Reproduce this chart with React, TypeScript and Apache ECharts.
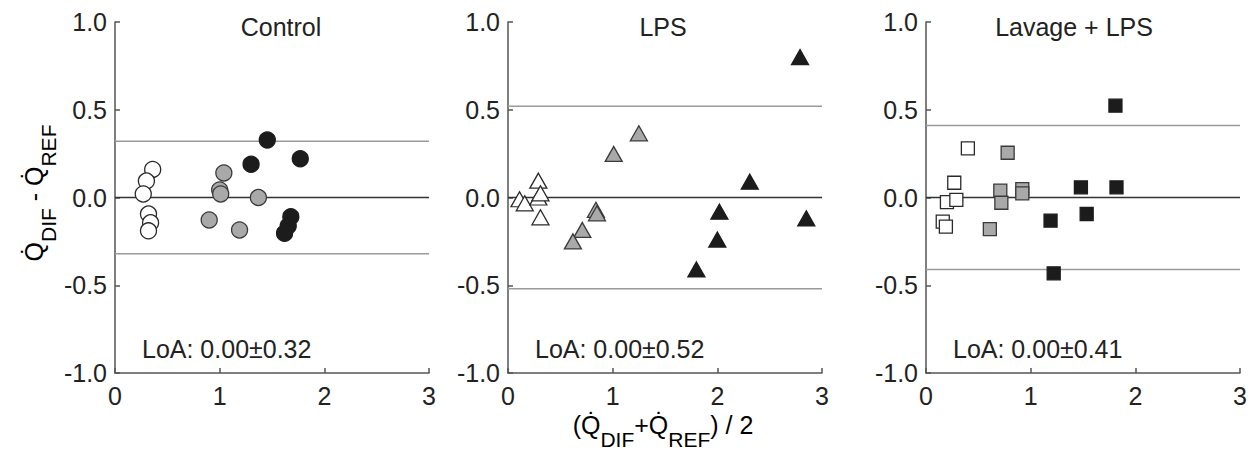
import React, { useEffect, useRef } from "react";
import * as echarts from "echarts";

// ---- data ----
const panelTitles = ["Control", "LPS", "Lavage + LPS"];
const loaValues = [0.32, 0.52, 0.41];
const loaLabels = ["LoA: 0.00\u00b10.32", "LoA: 0.00\u00b10.52", "LoA: 0.00\u00b10.41"];
const xTickMin = 0;
const xTickMax = 3;
const yTickMin = -1;
const yTickMax = 1;

const controlOpen = [[0.36, 0.16], [0.30, 0.094], [0.27, 0.02], [0.32, -0.094], [0.34, -0.144], [0.32, -0.19]];
const controlGray = [[1.04, 0.14], [1.0, 0.043], [1.01, 0.02], [1.37, 0.0], [0.9, -0.128], [1.19, -0.185]];
const controlBlack = [[1.455, 0.328], [1.3, 0.19], [1.77, 0.221], [1.68, -0.109], [1.655, -0.162], [1.62, -0.204]];

const lpsOpen = [[0.29, 0.096], [0.11, -0.01], [0.16, -0.033], [0.29, 0.0], [0.31, 0.024], [0.31, -0.113]];
const lpsGray = [[1.25, 0.366], [1.01, 0.248], [0.84, -0.07], [0.85, -0.09], [0.71, -0.185], [0.62, -0.25]];
const lpsBlack = [[2.79, 0.8], [2.31, 0.09], [2.02, -0.081], [2.0, -0.24], [1.8, -0.41], [2.85, -0.119]];

const lavOpen = [[0.4, 0.28], [0.27, 0.084], [0.2, -0.026], [0.29, -0.014], [0.16, -0.138], [0.19, -0.166]];
const lavGray = [[0.78, 0.255], [0.71, 0.039], [0.72, -0.03], [0.92, 0.048], [0.92, 0.024], [0.61, -0.18]];
const lavBlack = [[1.81, 0.523], [1.48, 0.058], [1.82, 0.058], [1.535, -0.094], [1.19, -0.132], [1.22, -0.432]];

const panelData = [
  [controlOpen, controlGray, controlBlack],
  [lpsOpen, lpsGray, lpsBlack],
  [lavOpen, lavGray, lavBlack],
];

const FONT = "'Liberation Sans', Arial, Helvetica, sans-serif";
const TXT = "#222";

export default function App() {
  const ref = useRef<HTMLDivElement>(null);

  useEffect(() => {
    if (!ref.current) return;
    const chart = echarts.init(ref.current, undefined, { renderer: "svg" });

    const gridLefts = [115, 508, 926];
    const gridWidth = 314;
    const grids = gridLefts.map((l) => ({ left: l, top: 22, width: gridWidth, height: 351 }));

    const axisLineStyle = { color: "#555", width: 1.5 };
    const xAxes = gridLefts.map((_, i) => ({
      type: "value",
      gridIndex: i,
      min: xTickMin,
      max: xTickMax,
      interval: 1,
      axisLine: { show: true, onZero: false, lineStyle: axisLineStyle },
      axisTick: { show: true, inside: true, length: 5, lineStyle: axisLineStyle },
      axisLabel: { fontSize: 25, fontFamily: FONT, color: TXT, margin: 10, showMinLabel: true, showMaxLabel: true },
      splitLine: { show: false },
    }));
    const yAxes = gridLefts.map((_, i) => ({
      type: "value",
      gridIndex: i,
      min: yTickMin,
      max: yTickMax,
      interval: 0.5,
      axisLine: { show: true, onZero: false, lineStyle: axisLineStyle },
      axisTick: { show: true, inside: true, length: 5, lineStyle: axisLineStyle },
      axisLabel: {
        fontSize: 25,
        fontFamily: FONT,
        color: TXT,
        margin: 8,
        formatter: (v: number) => v.toFixed(1),
      },
      splitLine: { show: false },
    }));

    const series: any[] = [];
    const symbols = ["circle", "triangle", "rect"];
    const sizes: any[] = [16, [17, 15], 13];
    const fills = ["#ffffff", "#a9a9a9", "#1c1c1c"];
    const borders = ["#2a2a2a", "#3a3a3a", "#1c1c1c"];

    for (let i = 0; i < 3; i++) {
      const hl = [
        { v: loaValues[i], c: "#9a9a9a" },
        { v: -loaValues[i], c: "#9a9a9a" },
        { v: 0, c: "#333" },
      ];
      hl.forEach((h) => {
        series.push({
          type: "line",
          xAxisIndex: i,
          yAxisIndex: i,
          data: [[xTickMin, h.v], [xTickMax, h.v]],
          showSymbol: false,
          silent: true,
          lineStyle: { color: h.c, width: 1.5 },
          z: 1,
        });
      });
      panelData[i].forEach((pts, g) => {
        series.push({
          type: "scatter",
          xAxisIndex: i,
          yAxisIndex: i,
          data: pts,
          symbol: symbols[i],
          symbolSize: sizes[i],
          itemStyle: { color: fills[g], borderColor: borders[g], borderWidth: 1.3, opacity: 1 },
          z: 3 + g,
        });
      });
    }

    const rich = {
      q: { fontSize: 25, fontFamily: FONT, color: TXT, verticalAlign: "top" },
      s: { fontSize: 21, fontFamily: FONT, color: TXT, verticalAlign: "top", padding: [16, 0, 0, 0] },
    };

    const titleX = [281, 663, 1074];
    const graphic: any[] = [];
    panelTitles.forEach((t, i) => {
      graphic.push({
        type: "text",
        x: titleX[i],
        y: 27,
        style: { text: t, fontSize: 25, fontFamily: FONT, fill: TXT, align: "center", verticalAlign: "middle" },
      });
      graphic.push({
        type: "text",
        x: gridLefts[i] + 27,
        y: 349,
        style: { text: loaLabels[i], fontSize: 25, fontFamily: FONT, fill: TXT, align: "left", verticalAlign: "middle" },
      });
    });
    graphic.push({
      type: "text",
      x: 663,
      y: 431,
      style: {
        text: "{q|(Q\u0307}{s|DIF}{q|+Q\u0307}{s|REF}{q|) / 2}",
        rich,
        align: "center",
        verticalAlign: "middle",
      },
    });
    graphic.push({
      type: "text",
      x: 40,
      y: 193,
      rotation: Math.PI / 2,
      style: {
        text: "{q|Q\u0307}{s|DIF}{q| - Q\u0307}{s|REF}",
        rich,
        align: "center",
        verticalAlign: "middle",
      },
    });

    chart.setOption({
      animation: false,
      backgroundColor: "#ffffff",
      grid: grids,
      xAxis: xAxes,
      yAxis: yAxes,
      series,
      graphic,
    });

    return () => chart.dispose();
  }, []);

  return (
    <div
      ref={ref}
      style={{ position: "absolute", left: 0, top: 0, width: 1254, height: 451 }}
    />
  );
}
